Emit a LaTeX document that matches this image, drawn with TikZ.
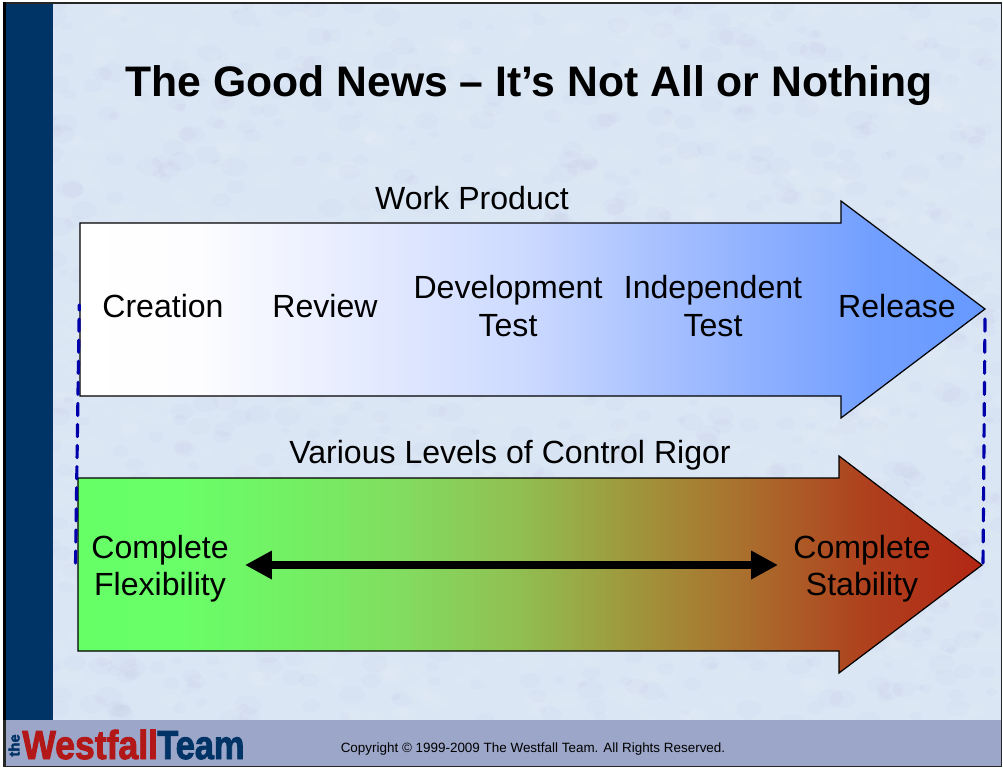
\documentclass[tikz,border=0pt]{standalone}
\usepackage{fontspec}
\usepackage{pgf,tikz}
\usepackage{tkz-euclide}
\usepackage{xcolor}
\usetikzlibrary{arrows.meta, calc}
\setmainfont{Liberation Sans}
\newfontfamily\logofont{Liberation Sans Bold}[FakeBold=2.4]
\definecolor{slidebg}{RGB}{218,230,244}
\definecolor{bandblue}{RGB}{0,51,102}
\definecolor{footblue}{RGB}{156,166,200}
\definecolor{dashblue}{RGB}{0,0,170}
\definecolor{logored}{RGB}{178,24,24}
\pgfdeclarehorizontalshading{flowshade}{100bp}{rgb(0bp)=(1,1,1); rgb(25bp)=(1,1,1);
  rgb(31.5bp)=(.992,.992,1); rgb(36.5bp)=(.941,.953,1); rgb(49.5bp)=(.804,.855,1);
  rgb(55.5bp)=(.686,.776,1); rgb(62bp)=(.569,.698,1); rgb(68.5bp)=(.451,.627,1);
  rgb(75bp)=(.4,.6,1); rgb(100bp)=(.4,.6,1)}
\pgfdeclarehorizontalshading{rigorshade}{100bp}{rgb(0bp)=(.4,1,.4); rgb(25bp)=(.4,1,.4);
  rgb(30.5bp)=(.412,1,.412); rgb(36.75bp)=(.451,.941,.392); rgb(43bp)=(.51,.863,.373);
  rgb(49.5bp)=(.569,.745,.314); rgb(55.75bp)=(.627,.588,.235); rgb(62bp)=(.667,.431,.176);
  rgb(68.5bp)=(.686,.255,.118); rgb(75bp)=(.698,.149,.078); rgb(100bp)=(.698,.149,.078)}
\tikzset{
  lbl/.style={font=\fontsize{18.25}{21.2}\selectfont, align=center, inner sep=0pt, text=black},
  blockarrow/.style={draw=black, line width=0.7pt, line join=miter},
  guide/.style={color=dashblue, line width=1.8pt, dash pattern=on 6.9pt off 5.1pt},
}
\begin{document}
\begin{tikzpicture}[x=0.02cm,y=0.02cm]
	    \useasboundingbox (0,0) rectangle (1003,769);
	    \fill[white] (0,0) rectangle (1003,769);
	    \fill[black!85] (3,2) rectangle (1001.5,767);
	    \fill[slidebg] (6,4) rectangle (1000.5,764.5);

	    % mottled paper
	    \pgfmathsetseed{41}
	    \begin{scope}
	    \clip (53,49) rectangle (1000.5,764.5);
	    \foreach \i in {1,...,1800} {
	        \pgfmathsetmacro{\px}{50+rnd*955}
	        \pgfmathsetmacro{\py}{45+rnd*725}
	        \pgfmathsetmacro{\pr}{4+rnd*10}
	        \ifodd\i
	            \fill[white, opacity=0.07] (\px,\py) ellipse ({\pr} and {\pr*0.7});
	        \else
	            \fill[blue!25!gray, opacity=0.025] (\px,\py) ellipse ({\pr} and {\pr*0.7});
	        \fi
	    }
	    \end{scope}

	    \fill[black] (3,49) rectangle (6,767);
	    \fill[bandblue] (6,49) rectangle (53,764.5);
	    \fill[footblue] (6,3) rectangle (1000.5,49);

	    \tkzDefPoint(79.3,464){g_1}
	    \tkzDefPoint(75.5,205){g_2}
	    \tkzDefPoint(985,450){g_3}
	    \tkzDefPoint(983,204){g_4}
	    \tkzDefPoint(245,204){r_1}
	    \tkzDefPoint(778,204){r_2}

	    % work product arrow
	    \tkzDefPoint(80,546){a_1}
	    \tkzDefPoint(841,546){a_2}
	    \tkzDefPoint(841,568){a_3}
	    \tkzDefPoint(985,460){a_4}
	    \tkzDefPoint(841,351){a_5}
	    \tkzDefPoint(841,373){a_6}
	    \tkzDefPoint(80,373){a_7}
	    \shade[shading=flowshade]
	        (a_1) -- (a_2) -- (a_3) -- (a_4) -- (a_5) -- (a_6) -- (a_7) -- cycle;
	    \draw[blockarrow] (a_1) -- (a_2) -- (a_3) -- (a_4) -- (a_5) -- (a_6) -- (a_7) -- cycle;

	    % rigor arrow
	    \tkzDefPoint(78,291){b_1}
	    \tkzDefPoint(839,291){b_2}
	    \tkzDefPoint(839,313){b_3}
	    \tkzDefPoint(982,204){b_4}
	    \tkzDefPoint(839,96){b_5}
	    \tkzDefPoint(839,118){b_6}
	    \tkzDefPoint(78,118){b_7}
	    \shade[shading=rigorshade]
	        (b_1) -- (b_2) -- (b_3) -- (b_4) -- (b_5) -- (b_6) -- (b_7) -- cycle;
	    \draw[blockarrow] (b_1) -- (b_2) -- (b_3) -- (b_4) -- (b_5) -- (b_6) -- (b_7) -- cycle;

	    \tkzDrawSegments[guide, dash phase=4pt](g_1,g_2)
	    \tkzDrawSegments[guide](g_3,g_4)
	    \draw[line width=4pt, {Triangle[length=15.3pt,width=15.3pt]}-{Triangle[length=15.3pt,width=15.3pt]}] (r_1) -- (r_2);

	    \node[font=\bfseries\fontsize{24.3}{28}\selectfont, inner sep=0pt] (title) at (529,683) {The Good News -- It’s Not All or Nothing};
	    \node[lbl] (work) at (472,571) {Work Product};
	    \node[lbl] (creation) at (163,463) {Creation};
	    \node[lbl] (review) at (325,463) {Review};
	    \node[lbl] (devtest) at (508,463) {Development\\Test};
	    \node[lbl] (indtest) at (713,463) {Independent\\Test};
	    \node[lbl] (release) at (897,463) {Release};
	    \node[lbl] (levels) at (510,314) {Various Levels of Control Rigor};
	    \node[lbl] (flex) at (160,200) {Complete\\Flexibility};
	    \node[lbl] (stable) at (862,200) {Complete\\Stability};

	    \node[font=\fontsize{7.65}{10}\selectfont, inner sep=0pt] (copy) at (533,19.5) {Copyright © 1999-2009 The Westfall Team.  All Rights Reserved.};
	    \node[font=\logofont\fontsize{23}{24}\selectfont, text=logored, xscale=0.88, anchor=base west, inner sep=0pt] (westfall) at (22,10) {Westfall};
	    \node[font=\logofont\fontsize{23}{24}\selectfont, text=bandblue, xscale=0.85, anchor=base west, inner sep=0pt] (team) at (157,10) {Team};
	    \node[font=\logofont\fontsize{8.5}{9}\selectfont, text=bandblue, rotate=90, anchor=base west, inner sep=0pt] (the) at (19.5,12) {the};
		\end{tikzpicture}
\end{document}
